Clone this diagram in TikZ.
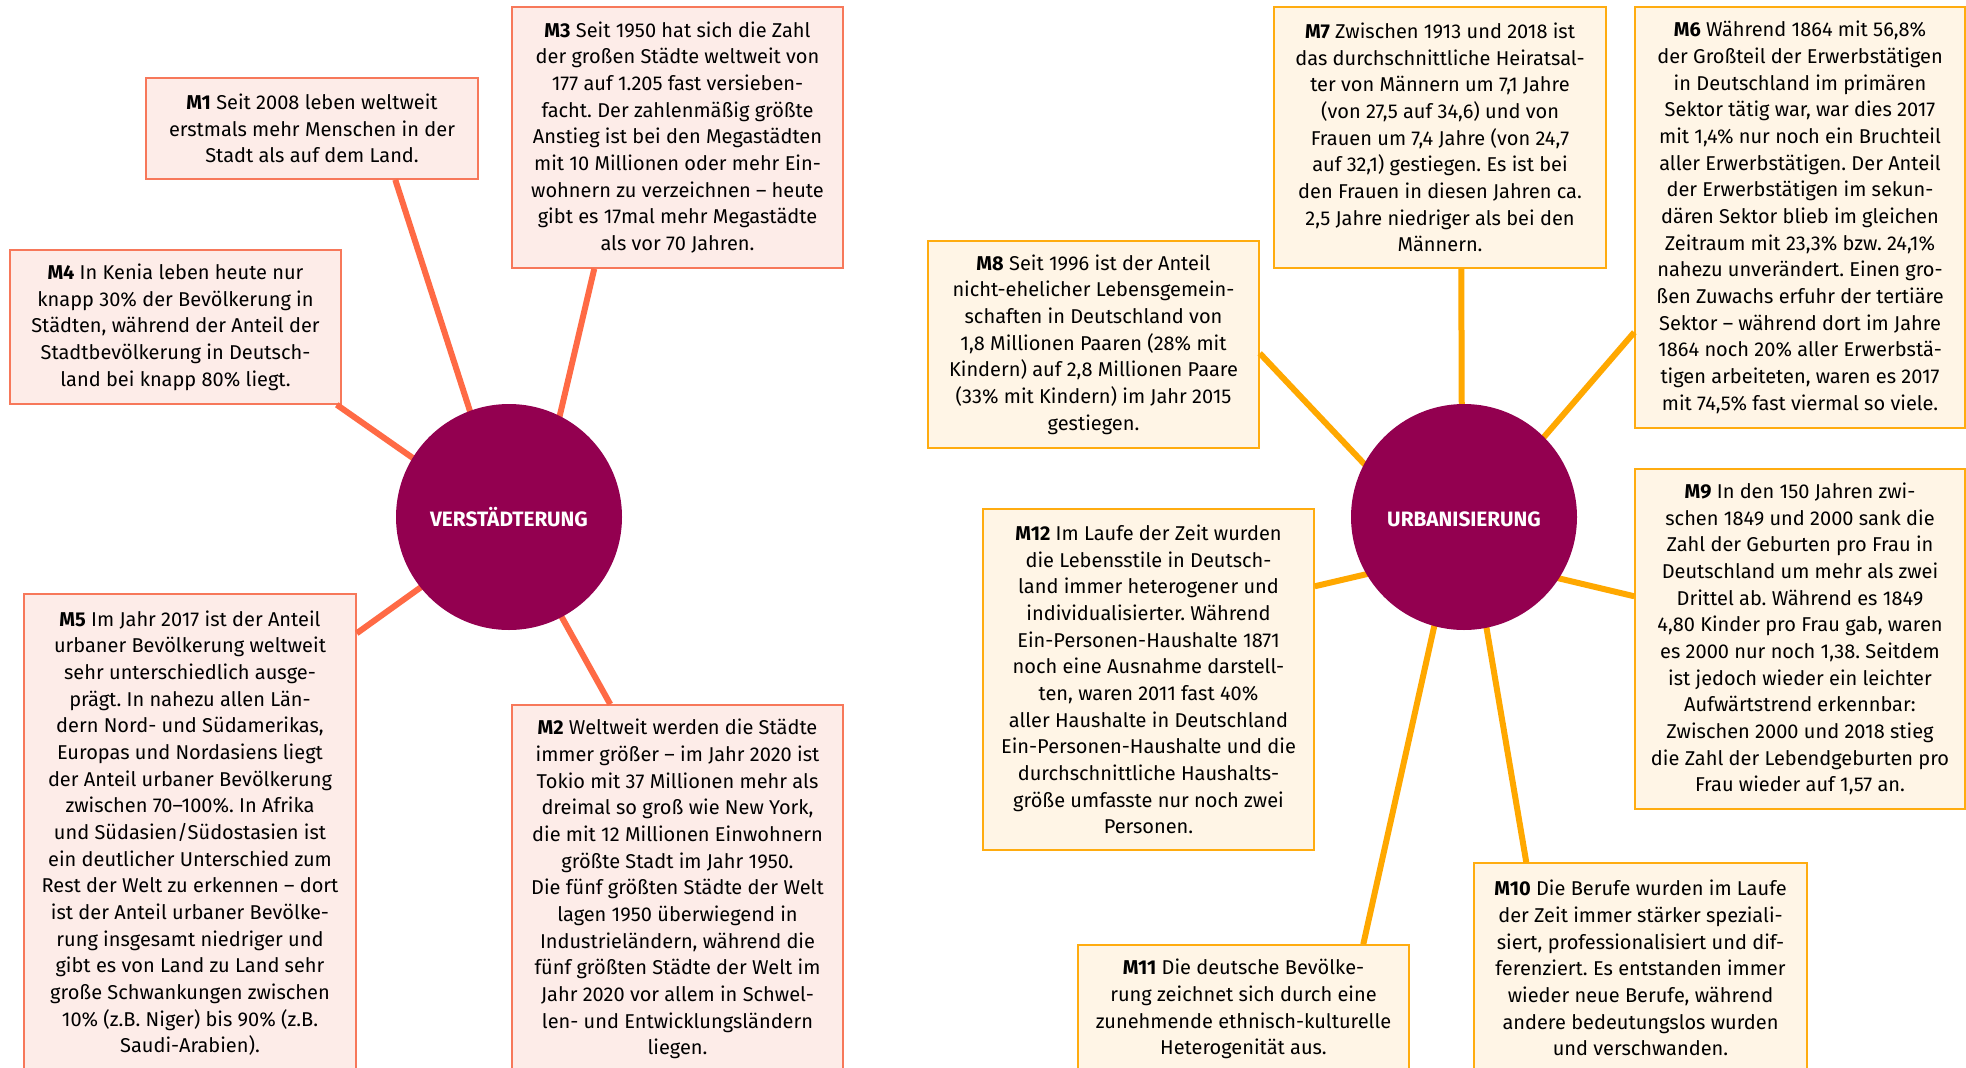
\documentclass[tikz,border=0pt]{standalone}
\usepackage{fontspec}
\setmainfont{Fira Sans}
\usetikzlibrary{calc}
\definecolor{hubcol}{HTML}{930050}
\definecolor{vline}{HTML}{FF6A45}
\definecolor{vborder}{HTML}{F7785A}
\definecolor{vfill}{HTML}{FDECE8}
\definecolor{uline}{HTML}{FFA800}
\definecolor{uborder}{HTML}{FFAC10}
\definecolor{ufill}{HTML}{FFF5E6}
\tikzset{
  mbox/.style={draw, line width=1.1pt, align=center, inner sep=0pt,
    font=\frenchspacing\fontsize{15}{20}\selectfont, text=black},
  vbox/.style={mbox, draw=vborder, fill=vfill},
  ubox/.style={mbox, draw=uborder, fill=ufill},
  hub/.style={circle, fill=hubcol, minimum size=169.5pt, inner sep=0pt,
    text=white, text height=14pt, text depth=0pt,
    font=\bfseries\fontsize{15.6}{18}\selectfont},
  vconn/.style={draw=vline, line width=4.5pt},
  uconn/.style={draw=uline, line width=4.5pt},
}
\begin{document}
\begin{tikzpicture}[x=0.75pt,y=-0.75pt]
\useasboundingbox (0,0) rectangle (1966,1067);
\clip (0,0) rectangle (1966,1067);
\fill[white] (0,0) rectangle (1966,1067);

% inner connector ends (hidden behind the hubs)
\coordinate (vc1) at (489,470);
\coordinate (vc3) at (547,470);
\coordinate (vc4) at (470,498);
\coordinate (vc5) at (470,552);
\coordinate (vc2) at (530,560);
\coordinate (uc7) at (1462,480);
\coordinate (uc6) at (1500,488);
\coordinate (uc8) at (1420,523);
\coordinate (uc12) at (1440,557);
\coordinate (uc9) at (1490,562);
\coordinate (uc11) at (1449,560);
\coordinate (uc10) at (1475,560);

% boxes
\node[vbox, minimum width=249pt, minimum height=75.75pt] (m1) at (312,128.5) {\textbf{M1} Seit 2008 leben weltweit\\erstmals mehr Menschen in der\\Stadt als auf dem Land.};
\node[vbox, minimum width=248.25pt, minimum height=195.75pt] (m3) at (677.5,137.5) {\textbf{M3} Seit 1950 hat sich die Zahl\\der großen Städte weltweit von\\177 auf 1.205 fast versieben-\\facht. Der zahlenmäßig größte\\Anstieg ist bei den Megastädten\\mit 10 Millionen oder mehr Ein-\\wohnern zu verzeichnen – heute\\gibt es 17mal mehr Megastädte\\als vor 70 Jahren.};
\node[vbox, minimum width=248.25pt, minimum height=115.5pt] (m4) at (175.5,327) {\textbf{M4} In Kenia leben heute nur\\knapp 30\% der Bevölkerung in\\Städten, während der Anteil der\\Stadtbevölkerung in Deutsch-\\land bei knapp 80\% liegt.};
\node[vbox, minimum width=249pt, minimum height=358.5pt] (m5) at (190,833) {\textbf{M5} Im Jahr 2017 ist der Anteil\\urbaner Bevölkerung weltweit\\sehr unterschiedlich ausge-\\prägt. In nahezu allen Län-\\dern Nord- und Südamerikas,\\Europas und Nordasiens liegt\\der Anteil urbaner Bevölkerung\\zwischen 70–100\%. In Afrika\\und Südasien/Südostasien ist\\ein deutlicher Unterschied zum\\Rest der Welt zu erkennen – dort\\ist der Anteil urbaner Bevölke-\\rung insgesamt niedriger und\\gibt es von Land zu Land sehr\\große Schwankungen zwischen\\10\% (z.B. Niger) bis 90\% (z.B.\\Saudi-Arabien).};
\node[vbox, minimum width=248.25pt, minimum height=276pt] (m2) at (677.5,889) {\textbf{M2} Weltweit werden die Städte\\immer größer – im Jahr 2020 ist\\Tokio mit 37 Millionen mehr als\\dreimal so groß wie New York,\\die mit 12 Millionen Einwohnern\\größte Stadt im Jahr 1950.\\Die fünf größten Städte der Welt\\lagen 1950 überwiegend in\\Industrieländern, während die\\fünf größten Städte der Welt im\\Jahr 2020 vor allem in Schwel-\\len- und Entwicklungsländern\\liegen.};

\node[ubox, minimum width=249pt, minimum height=195.75pt] (m7) at (1440,137.5) {\textbf{M7} Zwischen 1913 und 2018 ist\\das durchschnittliche Heiratsal-\\ter von Männern um 7,1 Jahre\\(von 27,5 auf 34,6) und von\\Frauen um 7,4 Jahre (von 24,7\\auf 32,1) gestiegen. Es ist bei\\den Frauen in diesen Jahren ca.\\2,5 Jahre niedriger als bei den\\Männern.};
\node[ubox, minimum width=247.5pt, minimum height=315.75pt] (m6) at (1800,217.5) {\textbf{M6} Während 1864 mit 56,8\%\\der Großteil der Erwerbstätigen\\in Deutschland im primären\\Sektor tätig war, war dies 2017\\mit 1,4\% nur noch ein Bruchteil\\aller Erwerbstätigen. Der Anteil\\der Erwerbstätigen im sekun-\\dären Sektor blieb im gleichen\\Zeitraum mit 23,3\% bzw. 24,1\%\\nahezu unverändert. Einen gro-\\ßen Zuwachs erfuhr der tertiäre\\Sektor – während dort im Jahre\\1864 noch 20\% aller Erwerbstä-\\tigen arbeiteten, waren es 2017\\mit 74,5\% fast viermal so viele.};
\node[ubox, minimum width=248.25pt, minimum height=155.25pt] (m8) at (1093.5,344.5) {\textbf{M8} Seit 1996 ist der Anteil\\nicht-ehelicher Lebensgemein-\\schaften in Deutschland von\\1,8 Millionen Paaren (28\% mit\\Kindern) auf 2,8 Millionen Paare\\(33\% mit Kindern) im Jahr 2015\\gestiegen.};
\node[ubox, minimum width=248.25pt, minimum height=255.75pt] (m12) at (1148.5,679.5) {\textbf{M12} Im Laufe der Zeit wurden\\die Lebensstile in Deutsch-\\land immer heterogener und\\individualisierter. Während\\Ein-Personen-Haushalte 1871\\noch eine Ausnahme darstell-\\ten, waren 2011 fast 40\%\\aller Haushalte in Deutschland\\Ein-Personen-Haushalte und die\\durchschnittliche Haushalts-\\größe umfasste nur noch zwei\\Personen.};
\node[ubox, minimum width=247.5pt, minimum height=255pt] (m9) at (1800,639) {\textbf{M9} In den 150 Jahren zwi-\\schen 1849 und 2000 sank die\\Zahl der Geburten pro Frau in\\Deutschland um mehr als zwei\\Drittel ab. Während es 1849\\4,80 Kinder pro Frau gab, waren\\es 2000 nur noch 1,38. Seitdem\\ist jedoch wieder ein leichter\\Aufwärtstrend erkennbar:\\Zwischen 2000 und 2018 stieg\\die Zahl der Lebendgeburten pro\\Frau wieder auf 1,57 an.};
\node[ubox, minimum width=249.75pt, minimum height=157.5pt] (m10) at (1640.5,968) {\textbf{M10} Die Berufe wurden im Laufe\\der Zeit immer stärker speziali-\\siert, professionalisiert und dif-\\ferenziert. Es entstanden immer\\wieder neue Berufe, während\\andere bedeutungslos wurden\\und verschwanden.};
\node[ubox, minimum width=248.25pt, minimum height=96pt] (m11) at (1243.5,1009) {\textbf{M11} Die deutsche Bevölke-\\rung zeichnet sich durch eine\\zunehmende ethnisch-kulturelle\\Heterogenität aus.};

% connectors (drawn behind the hubs)
\draw[vconn] ($(m1.south west)+(250,0)$) -- (vc1);
\draw[vconn] ($(m3.south west)+(83,0)$) -- (vc3);
\draw[vconn] ($(m4.south east)+(-5,0)$) -- (vc4);
\draw[vconn] ($(m5.north east)+(0,40)$) -- (vc5);
\draw[vconn] ($(m2.north west)+(99,0)$) -- (vc2);
\draw[uconn] ($(m7.south west)+(188,0)$) -- (uc7);
\draw[uconn] ($(m6.north west)+(0,326)$) -- (uc6);
\draw[uconn] ($(m8.north east)+(0,113)$) -- (uc8);
\draw[uconn] ($(m12.north east)+(0,78)$) -- (uc12);
\draw[uconn] ($(m9.north west)+(0,128)$) -- (uc9);
\draw[uconn] ($(m11.north west)+(286,0)$) -- (uc11);
\draw[uconn] ($(m10.north west)+(53,0)$) -- (uc10);

% hubs
\node[hub] (V) at (509,517) {VERSTÄDTERUNG};
\node[hub] (U) at (1464,517) {URBANISIERUNG};
\end{tikzpicture}
\end{document}
